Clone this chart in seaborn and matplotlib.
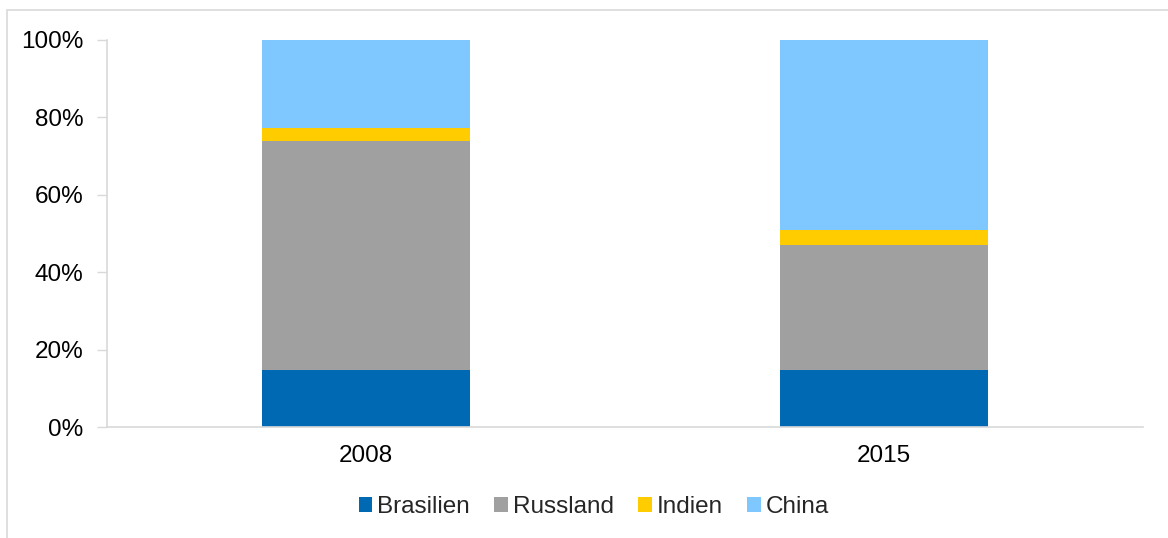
import numpy as np
import pandas as pd
import matplotlib
matplotlib.use("Agg")
import matplotlib.pyplot as plt
from matplotlib.patches import Rectangle
from matplotlib.ticker import PercentFormatter
import seaborn as sns

years = ["2008", "2015"]
countries = ["Brasilien", "Russland", "Indien", "China"]
brasilien = [14.7, 14.7]
russland = [59.3, 32.3]
indien = [3.3, 3.8]
china = [22.7, 49.2]
colors = ["#0069b4", "#a0a0a0", "#ffcc00", "#7fc8ff"]

sns.set_theme(style="white")
plt.rcParams["font.family"] = ["Liberation Sans", "DejaVu Sans"]

shares = pd.DataFrame({"year": years, "Brasilien": brasilien, "Russland": russland,
                       "Indien": indien, "China": china})
# cumulative heights for the stacked layers
cum = shares[countries].cumsum(axis=1)
cum["year"] = years

fig = plt.figure(figsize=(11.68, 5.38), dpi=100)
ax = fig.add_axes([107 / 1168, 111 / 538, 1036 / 1168, 387 / 538])

# draw from the top layer down so each lower layer covers the one above
for name, col in reversed(list(zip(countries, colors))):
    sns.barplot(data=cum, x="year", y=name, color=col, width=0.4,
                saturation=1, linewidth=0, ax=ax, label=name)

ax.set_xlim(-0.5, 1.5)
ax.set_ylim(0, 100)
ax.set_yticks([0, 20, 40, 60, 80, 100])
ax.yaxis.set_major_formatter(PercentFormatter(decimals=0))
ax.set_xlabel("")
ax.set_ylabel("")
ax.tick_params(axis="y", labelsize=17.5, colors="#d9d9d9", labelcolor="black",
               length=7, width=1, left=True, pad=10)
ax.tick_params(axis="x", labelsize=17.5, labelcolor="black", length=0, pad=13)
for s in ["top", "right"]:
    ax.spines[s].set_visible(False)
for s in ["left", "bottom"]:
    ax.spines[s].set_color("#d9d9d9")
    ax.spines[s].set_linewidth(1.2)

handles, labels = ax.get_legend_handles_labels()
order = [labels.index(c) for c in countries]
ax.legend([handles[i] for i in order], countries, loc="center",
          bbox_to_anchor=(594 / 1168, 31 / 538), bbox_transform=fig.transFigure,
          ncol=4, frameon=False, fontsize=17.5, handlelength=0.55, handleheight=0.55,
          handletextpad=0.22, columnspacing=1.0)

# thin frame around the chart area
fig.patches.append(Rectangle((7 / 1168, -0.1), 1.2, (528 / 538) + 0.1,
                             transform=fig.transFigure, fill=False,
                             edgecolor="#d9d9d9", linewidth=1.2))

fig.savefig("out.png", dpi=100)
